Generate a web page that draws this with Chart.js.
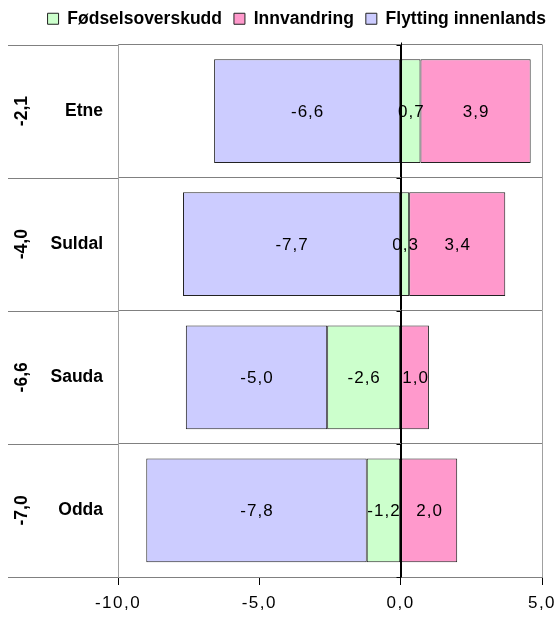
<!DOCTYPE html>
<html><head><meta charset="utf-8">
<script src="https://cdn.jsdelivr.net/npm/chart.js@4.4.1/dist/chart.umd.min.js"></script>
<style>html,body{margin:0;padding:0;background:#fff}</style>
</head><body>
<canvas id="c" width="558" height="617"></canvas>
<script>
const categories = ['Etne', 'Suldal', 'Sauda', 'Odda'];
const totals = ['-2,1', '-4,0', '-6,6', '-7,0'];
const fodsel = [0.7, 0.3, -2.6, -1.2];
const innvandring = [3.9, 3.4, 1.0, 2.0];
const flytting = [-6.6, -7.7, -5.0, -7.8];
const xMin = -10, xMax = 5, xStep = 5;

const FONT = '"Liberation Sans", Arial, sans-serif';
Chart.defaults.font.family = FONT;
Chart.defaults.color = '#000';

const fmt = v => v.toFixed(1).replace('.', ',');

const extras = {
  id: 'extras',
  afterDatasetsDraw(chart) {
    const ctx = chart.ctx, ys = chart.scales.y, xs = chart.scales.x, ca = chart.chartArea;
    ctx.save();
    // data labels
    ctx.font = '17px ' + FONT;
    ctx.letterSpacing = '1px';
    ctx.fillStyle = '#000';
    ctx.textAlign = 'center';
    ctx.textBaseline = 'middle';
    chart.data.datasets.forEach((ds, di) => {
      const meta = chart.getDatasetMeta(di);
      meta.data.forEach((el, i) => {
        const v = ds.data[i];
        const cx = (el.x + el.base) / 2 + 0.5;
        ctx.fillText(fmt(v), cx, el.y + 1);
      });
    });
    ctx.letterSpacing = '0px';
    // zero line on top of bars
    const x0 = Math.round(xs.getPixelForValue(0)) + 0.5;
    ctx.strokeStyle = '#000';
    ctx.lineWidth = 1;
    ctx.beginPath(); ctx.moveTo(x0, ca.top - 2); ctx.lineTo(x0, ca.bottom); ctx.stroke();
    // small category ticks on zero line
    for (let i = 0; i <= categories.length; i++) {
      const y = Math.round(ys.getPixelForValue(i - 0.5)) + 0.5;
      ctx.beginPath(); ctx.moveTo(x0 - 5, y); ctx.lineTo(x0, y); ctx.stroke();
    }
    // extend separators to the left
    ctx.strokeStyle = '#808080';
    for (let i = 0; i <= categories.length; i++) {
      const y = Math.round(ys.getPixelForValue(i - 0.5)) + 0.5;
      ctx.beginPath(); ctx.moveTo(8, y); ctx.lineTo(ca.left, y); ctx.stroke();
    }
    // rotated totals
    ctx.font = 'bold 17.5px ' + FONT;
    ctx.fillStyle = '#000';
    totals.forEach((t, i) => {
      const y = ys.getPixelForValue(i);
      ctx.save();
      ctx.translate(22, y);
      ctx.rotate(-Math.PI / 2);
      ctx.textAlign = 'center';
      ctx.textBaseline = 'middle';
      ctx.fillText(t, 0, 0);
      ctx.restore();
    });
    ctx.restore();
    // x tick labels (z > 0) are drawn after this hook: widen their spacing
    ctx.letterSpacing = '1.5px';
  },
  afterDraw(chart) {
    chart.ctx.letterSpacing = '0px';
  }
};

new Chart(document.getElementById('c'), {
  type: 'bar',
  data: {
    labels: categories,
    datasets: [
      { label: 'Fødselsoverskudd', data: fodsel, backgroundColor: '#CCFFCC', borderColor: '#222', borderWidth: 1, borderSkipped: false },
      { label: 'Innvandring', data: innvandring, backgroundColor: '#FF99CC', borderColor: '#222', borderWidth: 1, borderSkipped: false },
      { label: 'Flytting innenlands', data: flytting, backgroundColor: '#CCCCFF', borderColor: '#222', borderWidth: 1, borderSkipped: false }
    ]
  },
  options: {
    indexAxis: 'y',
    responsive: false,
    animation: false,
    layout: { padding: { left: 8, right: 0, top: -2, bottom: 0 } },
    datasets: { bar: { categoryPercentage: 1, barPercentage: 0.78 } },
    plugins: {
      legend: {
        position: 'top',
        align: 'end',
        weight: 3000,
        labels: {
          boxWidth: 11, boxHeight: 11, padding: 12,
          font: { size: 17.5, weight: 'bold', family: FONT },
          color: '#000'
        }
      },
      title: {
        display: true,
        text: '',
        weight: 2000,
        font: { size: 1, lineHeight: 1 },
        padding: { top: 0, bottom: 6 }
      },
      tooltip: { enabled: false }
    },
    scales: {
      x: {
        stacked: true,
        min: xMin, max: xMax,
        ticks: { stepSize: xStep, callback: v => fmt(v), font: { size: 17 }, color: '#000', padding: 8, maxRotation: 0, z: 1 },
        grid: {
          color: c => (c.tick && (c.tick.value === xMin || c.tick.value === xMax)) ? '#a0a0a0' : (c.tick && c.tick.value === 0 ? '#000' : 'rgba(0,0,0,0)'),
          tickColor: '#000',
          tickLength: 8,
          drawOnChartArea: true
        },
        border: { display: true, color: '#808080' },
        afterFit: s => { s.height = 40; s.paddingLeft = 0; s.paddingRight = 16; }
      },
      y: {
        stacked: true,
        ticks: { font: { size: 17.5, weight: 'bold' }, color: '#000', padding: 15 },
        grid: { offset: true, color: '#808080', drawTicks: false },
        border: { display: true, color: '#a0a0a0' },
        afterFit: s => { s.width = 110; s.paddingTop = 0; s.paddingBottom = 0; }
      }
    }
  },
  plugins: [extras]
});
</script>
</body></html>
